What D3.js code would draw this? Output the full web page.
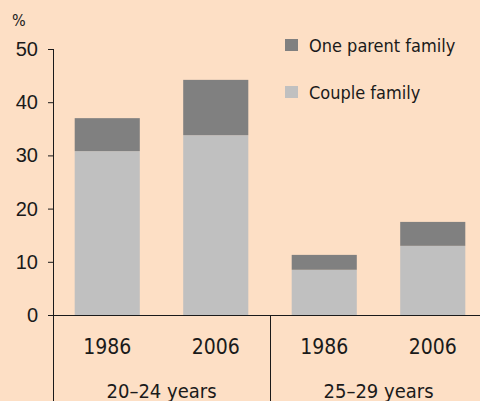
<!DOCTYPE html>
<html><head><meta charset="utf-8">
<script src="https://cdn.jsdelivr.net/npm/d3@7"></script>
<style>
html,body{margin:0;padding:0;background:#FDDFC5;}
svg{display:block;font-family:"DejaVu Sans Condensed","DejaVu Sans",sans-serif;}
</style></head>
<body>
<svg id="chart" width="480" height="401"></svg>
<script>
const groups = ["20–24 years", "25–29 years"];
const years = ["1986", "2006", "1986", "2006"];
const groupOf = [0, 0, 1, 1];
const coupleFamily = [30.8, 33.8, 8.5, 13.0];
const oneParentFamily = [6.2, 10.4, 2.8, 4.5];
const yTicks = [0, 10, 20, 30, 40, 50];
const seriesNames = ["One parent family", "Couple family"];
const colors = {"One parent family": "#808080", "Couple family": "#C0C0C0"};

(function () {
const svg = d3.select("#chart");
const W = 480, H = 401;
const mLeft = 53, mRight = 487, mTop = 49, mBottom = 315;

const idx = d3.range(years.length);
const x = d3.scaleBand().domain(idx).range([mLeft, mRight]).paddingInner(0.4).paddingOuter(0.2);
const y = d3.scaleLinear().domain([0, 50]).range([mBottom, mTop]);

const textColor = "#1a1a1a";

// bars
const g = svg.append("g");
g.selectAll("rect.couple").data(idx).join("rect").attr("class", "couple")
  .attr("x", i => x(i)).attr("width", x.bandwidth())
  .attr("y", i => y(coupleFamily[i])).attr("height", i => y(0) - y(coupleFamily[i]))
  .attr("fill", colors["Couple family"]);
g.selectAll("rect.one").data(idx).join("rect").attr("class", "one")
  .attr("x", i => x(i)).attr("width", x.bandwidth())
  .attr("y", i => y(coupleFamily[i] + oneParentFamily[i]))
  .attr("height", i => y(coupleFamily[i]) - y(coupleFamily[i] + oneParentFamily[i]))
  .attr("fill", colors["One parent family"]);

// y axis
const yAxis = svg.append("g").attr("transform", `translate(${mLeft},0)`)
  .call(d3.axisLeft(y).tickValues(yTicks).tickSize(5).tickPadding(10).tickFormat(d3.format("d")));
yAxis.select(".domain").remove();
yAxis.selectAll(".tick line").attr("stroke", textColor);
yAxis.selectAll(".tick text").attr("fill", textColor).style("font-size", "20px").style("font-family", "inherit");
svg.append("line").attr("x1", mLeft + 0.5).attr("x2", mLeft + 0.5).attr("y1", y(50)).attr("y2", H)
  .attr("stroke", textColor);

// x axis baseline
svg.append("line").attr("x1", mLeft).attr("x2", W).attr("y1", mBottom + 0.5).attr("y2", mBottom + 0.5)
  .attr("stroke", textColor);
// group divider
const divX = (x(1) + x.bandwidth() + x(2)) / 2;
svg.append("line").attr("x1", Math.round(divX) + 0.5).attr("x2", Math.round(divX) + 0.5)
  .attr("y1", mBottom).attr("y2", H).attr("stroke", textColor);

// year labels
svg.selectAll("text.year").data(idx).join("text").attr("class", "year")
  .attr("x", i => x(i) + x.bandwidth() / 2).attr("y", 347)
  .attr("text-anchor", "middle").attr("dominant-baseline", "central")
  .attr("fill", textColor).style("font-size", "21px")
  .text(i => years[i]);

// group labels
svg.selectAll("text.grp").data(groups).join("text").attr("class", "grp")
  .attr("x", (d, gi) => {
    const members = idx.filter(i => groupOf[i] === gi);
    return (x(members[0]) + x(members[members.length - 1]) + x.bandwidth()) / 2;
  })
  .attr("y", 391).attr("text-anchor", "middle").attr("dominant-baseline", "central")
  .attr("fill", textColor).style("font-size", "20px")
  .text(d => d);

// % label
svg.append("text").attr("x", 12).attr("y", 20).attr("dominant-baseline", "central")
  .attr("fill", textColor).style("font-size", "16px").text("%");

// legend
const leg = svg.append("g");
seriesNames.forEach((s, i) => {
  const ly = 45 + i * 47;
  leg.append("rect").attr("x", 285).attr("y", ly - 6).attr("width", 13).attr("height", 12).attr("fill", colors[s]);
  leg.append("text").attr("x", 309).attr("y", ly).attr("dominant-baseline", "central")
    .attr("fill", textColor).style("font-size", "18px").text(s);
});
})();
</script>
</body></html>
